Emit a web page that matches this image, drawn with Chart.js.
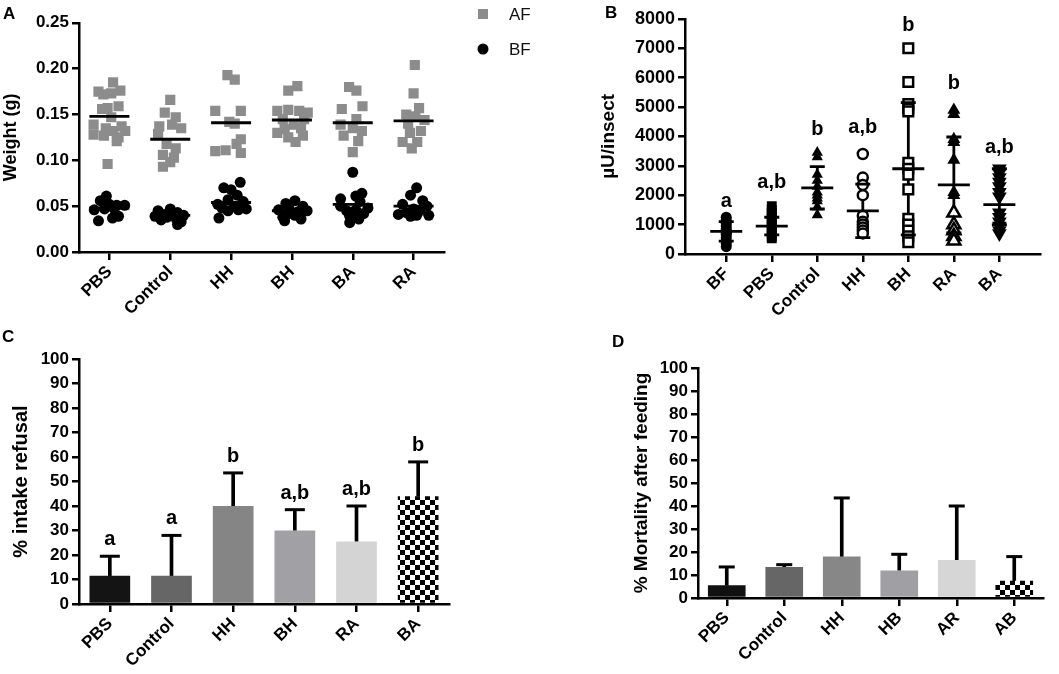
<!DOCTYPE html>
<html><head><meta charset="utf-8">
<script src="https://cdn.jsdelivr.net/npm/chart.js@4.4.1/dist/chart.umd.min.js"></script>
<style>
html,body{margin:0;padding:0;background:#fff;}
#wrap{position:relative;width:1059px;height:674px;overflow:hidden;background:#fff;}
canvas{position:absolute;left:0;top:0;}
.pl{position:absolute;font:bold 17px "Liberation Sans",Arial,sans-serif;line-height:1;color:#000;z-index:5;}
</style></head><body>
<div id="wrap">
<canvas id="cA" width="1059" height="674"></canvas>
<canvas id="cB" width="1059" height="674"></canvas>
<canvas id="cC" width="1059" height="674"></canvas>
<canvas id="cD" width="1059" height="674"></canvas>
<div class="pl" style="left:3px;top:5px">A</div>
<div class="pl" style="left:605px;top:4px">B</div>
<div class="pl" style="left:2px;top:328px">C</div>
<div class="pl" style="left:612px;top:333px">D</div>
</div>
<script>
// ---------- Panel A data ----------
const groupsA = ['PBS','Control','HH','BH','BA','RA'];
const afPBS = [0.185,0.176,0.175,0.173,0.172,0.159,0.157,0.156,0.147,0.139,0.137,0.135,0.132,0.132,0.128,0.127,0.125,0.121,0.096];
const afPBSx = [0.06,0.18,-0.18,0.03,-0.10,0.15,-0.03,-0.12,0.03,-0.26,0.20,-0.06,0.06,0.26,-0.26,-0.09,0.15,0.12,-0.03];
const afControl = [0.166,0.152,0.147,0.139,0.137,0.135,0.129,0.118,0.113,0.106,0.103,0.098,0.093];
const afControlx = [0.0,-0.09,0.09,0.03,-0.18,0.18,-0.2,-0.06,0.09,-0.12,0.06,0.0,-0.12];
const afHH = [0.193,0.188,0.154,0.154,0.142,0.140,0.123,0.118,0.111,0.110,0.108];
const afHHx = [-0.06,0.06,-0.26,0.16,-0.03,0.06,0.16,0.09,-0.09,-0.26,0.16];
const afBH = [0.181,0.176,0.155,0.154,0.154,0.152,0.145,0.145,0.139,0.135,0.134,0.130,0.127,0.125,0.120];
const afBHx = [0.09,-0.06,-0.06,-0.24,0.12,0.26,-0.15,0.20,0.03,0.15,-0.12,-0.24,0.18,-0.06,0.06];
const afBA = [0.180,0.176,0.159,0.156,0.145,0.139,0.135,0.132,0.127,0.121,0.109];
const afBAx = [-0.06,0.06,0.16,-0.18,0.06,-0.2,0.0,0.15,-0.15,0.09,0.0];
const afRA = [0.204,0.173,0.157,0.150,0.148,0.144,0.140,0.132,0.130,0.120,0.120,0.113];
const afRAx = [0.02,0.0,0.09,-0.12,0.03,0.18,-0.09,0.12,-0.06,-0.18,0.06,-0.03];
const bfPBS = [0.061,0.056,0.052,0.051,0.051,0.047,0.047,0.046,0.039,0.037,0.034];
const bfPBSx = [-0.05,-0.15,0.0,0.12,0.25,0.08,-0.08,-0.25,0.15,0.05,-0.18];
const bfControl = [0.047,0.045,0.043,0.041,0.040,0.040,0.039,0.038,0.036,0.035,0.033,0.030];
const bfControlx = [0.0,-0.2,0.12,-0.1,0.22,0.05,-0.25,-0.05,0.1,-0.15,0.18,0.12];
const bfHH = [0.076,0.070,0.068,0.062,0.057,0.055,0.052,0.050,0.048,0.047,0.046,0.045,0.037];
const bfHHx = [0.15,-0.12,0.0,0.1,-0.05,0.2,-0.22,0.05,-0.15,0.25,0.12,-0.05,-0.2];
const bfBH = [0.056,0.053,0.050,0.048,0.046,0.045,0.044,0.042,0.040,0.038,0.036,0.034];
const bfBHx = [0.05,-0.1,0.18,-0.05,-0.22,0.25,0.1,-0.05,0.05,-0.15,0.15,-0.12];
const bfBA = [0.087,0.064,0.061,0.058,0.055,0.050,0.048,0.046,0.045,0.042,0.039,0.036,0.032];
const bfBAx = [0.0,0.15,0.05,-0.2,0.12,-0.2,0.25,0.05,-0.1,0.18,-0.05,0.1,-0.05];
const bfRA = [0.070,0.062,0.056,0.052,0.050,0.047,0.045,0.043,0.041,0.040,0.040,0.039];
const bfRAx = [0.05,-0.05,0.15,-0.18,0.22,0.0,0.1,-0.12,-0.25,0.25,0.05,-0.05];
const meanAF = [0.148,0.123,0.141,0.144,0.141,0.143];
const meanBF = [0.048,0.040,0.054,0.045,0.052,0.050];
const ticksA = [0,0.05,0.10,0.15,0.20,0.25];

// ---------- Panel B data ----------
const groupsB = ['BF','PBS','Control','HH','BH','RA','BA'];
const valBF = [1250,1150,1050,950,850,800,750,700,650,550,450,350,250];
const valPBS = [1630,1500,1400,1300,1200,1100,1000,900,800,700,600,530];
const valControl = [3450,3300,2700,2500,2300,2100,2000,1900,1800,1600,1330];
const valHH = [3400,2600,2350,2000,1300,1100,1000,900,800,700];
const valBH = [7000,5850,5100,4950,4850,3100,2900,2700,2200,1200,1000,800,600,400];
const valRAfilled = [4900,4750,3900,3800,3200,2100,2000];
const valRAopen = [1400,1000,800,600,450];
const valBA = [2900,2750,2600,2450,2300,2100,1950,1400,1250,1100,950,800,700];
const meanB = [770,950,2250,1470,2900,2350,1680];
const sdHighB = [1100,1250,2970,2380,5150,3980,2900];
const sdLowB = [440,650,1530,560,650,720,1000];
const lettersB = ['a','a,b','b','a,b','b','b','a,b'];
const letterPosB = [1600,2250,4050,4100,7600,5600,3450];

// ---------- Panel C data ----------
const groupsC = ['PBS','Control','HH','BH','RA','BA'];
const valC = [11.5,11.5,40,30,25.5,44];
const errC = [19.5,28,53.5,38.5,40,58];
const lettersC = ['a','a','b','a,b','a,b','b'];

// ---------- Panel D data ----------
const groupsD = ['PBS','Control','HH','HB','AR','AB'];
const valD = [5.5,13.5,18,12,16.5,7.5];
const errD = [13.5,14.5,43.5,19,40,18];

// ---------- common ----------
const FF = '"Liberation Sans", Arial, sans-serif';
Chart.defaults.font.family = FF;
Chart.defaults.color = '#000';
Chart.defaults.animation = false;

function yAxis(opts){
  return {
    type:'linear', min:opts.min, max:opts.max,
    afterBuildTicks(s){ s.ticks = opts.ticks.map(v=>({value:v})); },
    ticks:{font:{size:opts.tickSize, weight:'bold', lineHeight:1}, color:'#000', padding:3, autoSkip:false,
      callback:opts.fmt || (v=>String(v))},
    grid:{display:true, drawOnChartArea:false, drawTicks:true, tickLength:7, color:'#000', lineWidth:2.5},
    border:{display:true, color:'#000', width:2.5},
    title:{display:true, text:opts.title, font:{size:opts.titleSize, weight:'bold', lineHeight:1.2}, color:'#000', padding:{top:0,bottom:0}},
    afterFit(s){ s.width = opts.width; }
  };
}
function xAxisLinear(labels, min, max, size){
  return {
    type:'linear', min:min, max:max,
    afterBuildTicks(s){ s.ticks = labels.map((_,i)=>({value:i})); },
    ticks:{font:{size:size, weight:'bold'}, color:'#000', minRotation:45, maxRotation:45, padding:2, autoSkip:false,
      callback:(v)=>labels[Math.round(v)]},
    grid:{display:true, drawOnChartArea:false, tickLength:8, color:'#000', lineWidth:2.5},
    border:{display:true, color:'#000', width:2.5},
    afterFit(s){ s.height = 70; }
  };
}
function xAxisCat(size){
  return {
    type:'category', offset:true,
    ticks:{font:{size:size, weight:'bold'}, color:'#000', minRotation:45, maxRotation:45, padding:2, autoSkip:false},
    grid:{display:true, offset:false, drawOnChartArea:false, tickLength:8, color:'#000', lineWidth:2.5},
    border:{display:true, color:'#000', width:2.5},
    afterFit(s){ s.height = 70; }
  };
}
const lettersPlugin = {
  id:'letters',
  afterDatasetsDraw(chart, args, o){
    if(!o || !o.items) return;
    const ctx = chart.ctx, x = chart.scales.x, y = chart.scales.y;
    ctx.save();
    ctx.font = 'bold 20px ' + FF;
    ctx.fillStyle = '#000';
    ctx.textAlign = 'center';
    ctx.textBaseline = 'alphabetic';
    o.items.forEach(it=>{
      ctx.fillText(it.t, x.getPixelForValue(it.i), y.getPixelForValue(it.v) - (it.dy||0));
    });
    ctx.restore();
  }
};
Chart.register(lettersPlugin);

function checker(ctx){
  const c = document.createElement('canvas'); c.width = 10; c.height = 10;
  const g = c.getContext('2d');
  g.fillStyle = '#fff'; g.fillRect(0,0,10,10);
  g.fillStyle = '#000'; g.fillRect(0,0,5,5); g.fillRect(5,5,5,5);
  return ctx.createPattern(c,'repeat');
}
const commonOpts = (pad)=>({
  responsive:false, devicePixelRatio:1, animation:false,
  layout:{padding:pad},
  plugins:{legend:{display:false}, tooltip:{enabled:false}}
});

// ---------- Chart A ----------
const afAll = [afPBS,afControl,afHH,afBH,afBA,afRA];
const afOff = [afPBSx,afControlx,afHHx,afBHx,afBAx,afRAx];
const bfAll = [bfPBS,bfControl,bfHH,bfBH,bfBA,bfRA];
const bfOff = [bfPBSx,bfControlx,bfHHx,bfBHx,bfBAx,bfRAx];
const pts = (all, off)=> all.flatMap((arr,i)=>arr.map((v,j)=>({x:i+off[i][j], y:v})));

const legendA = {
  id:'legA',
  afterDraw(chart){
    const ctx = chart.ctx;
    ctx.save();
    const ds = chart.data.datasets.filter(d=>d.showInLegend);
    ds.forEach((d,k)=>{
      const cy = k===0 ? 14 : 49, cx = 483;
      ctx.fillStyle = d.pointBackgroundColor;
      ctx.beginPath();
      if(d.pointStyle==='rect') ctx.rect(cx-5, cy-5, 10, 10);
      else ctx.arc(cx, cy, 5.5, 0, Math.PI*2);
      ctx.fill();
      ctx.font = '17px ' + FF;
      ctx.fillStyle = '#111';
      ctx.textBaseline = 'middle';
      ctx.textAlign = 'left';
      ctx.fillText(d.label, 509, cy+1);
    });
    ctx.restore();
  }
};

new Chart(document.getElementById('cA'), {
  type:'scatter',
  data:{datasets:[
    {label:'mean', data: meanAF.map((m,i)=>({x:i,y:m})).concat(meanBF.map((m,i)=>({x:i,y:m}))),
     pointStyle:'line', pointRadius:20, pointBorderWidth:2.8, pointBorderColor:'#000', pointBackgroundColor:'#000', order:0},
    {label:'AF', showInLegend:true, data: pts(afAll, afOff), pointStyle:'rect', pointRadius:7.2,
     pointBackgroundColor:'#8c8c8c', pointBorderWidth:0, pointBorderColor:'#8c8c8c', order:2},
    {label:'BF', showInLegend:true, data: pts(bfAll, bfOff), pointStyle:'circle', pointRadius:5.5,
     pointBackgroundColor:'#000', pointBorderWidth:0, pointBorderColor:'#000', order:1}
  ]},
  options: Object.assign(commonOpts({left:0, top:8, right:1059-444, bottom:674-252-70}), {
    scales:{
      x: xAxisLinear(groupsA, -0.5, 5.5, 17),
      y: yAxis({min:0, max:0.25, ticks:ticksA, tickSize:17, title:'Weight (g)', titleSize:18, width:79, fmt:v=>v.toFixed(2)})
    }
  }),
  plugins:[legendA]
});

// ---------- Chart B ----------
const colPts = (arr,i)=>arr.map(v=>({x:i,y:v}));
const sdLine = [];
groupsB.forEach((g,i)=>{ sdLine.push({x:i,y:sdLowB[i]},{x:i,y:sdHighB[i]},{x:i,y:null}); });
const ticksB = [0,1000,2000,3000,4000,5000,6000,7000,8000];
new Chart(document.getElementById('cB'), {
  type:'scatter',
  data:{datasets:[
    {label:'mean', data: meanB.map((m,i)=>({x:i,y:m})), pointStyle:'line', pointRadius:16, pointBorderWidth:2.8, pointBorderColor:'#000', order:0},
    {label:'caps', data: sdHighB.map((m,i)=>({x:i,y:m})).concat(sdLowB.map((m,i)=>({x:i,y:m}))), pointStyle:'line', pointRadius:7.5, pointBorderWidth:2.8, pointBorderColor:'#000', order:0},
    {label:'BF', data: colPts(valBF,0), pointStyle:'circle', pointRadius:5.5, pointBackgroundColor:'#000', pointBorderWidth:0, order:2},
    {label:'PBS', data: colPts(valPBS,1), pointStyle:'rect', pointRadius:7, pointBackgroundColor:'#000', pointBorderWidth:0, order:2},
    {label:'Control', data: colPts(valControl,2), pointStyle:'triangle', pointRadius:6.5, pointBackgroundColor:'#000', pointBorderWidth:0, order:2},
    {label:'HH', data: colPts(valHH,3), pointStyle:'circle', pointRadius:5, pointBackgroundColor:'#fff', pointBorderColor:'#000', pointBorderWidth:2.5, order:2},
    {label:'BH', data: colPts(valBH,4), pointStyle:'rect', pointRadius:6.8, pointBackgroundColor:'#fff', pointBorderColor:'#000', pointBorderWidth:2.5, order:2},
    {label:'RA', data: colPts(valRAfilled,5), pointStyle:'triangle', pointRadius:7.5, pointBackgroundColor:'#000', pointBorderWidth:0, order:2},
    {label:'RA open', data: colPts(valRAopen,5), pointStyle:'triangle', pointRadius:7.5, pointBackgroundColor:'#fff', pointBorderColor:'#000', pointBorderWidth:2.5, order:2},
    {label:'BA', data: colPts(valBA,6), pointStyle:'triangle', rotation:180, pointRotation:180, pointRadius:8.5, pointBackgroundColor:'#000', pointBorderWidth:0, order:2},
    {label:'sd', data: sdLine, showLine:true, spanGaps:false, borderColor:'#000', borderWidth:2.8, pointRadius:0, order:3}
  ]},
  options: Object.assign(commonOpts({left:597, top:9, right:1, bottom:674-254-70}), {
    scales:{
      x: xAxisLinear(groupsB, -0.906, 6.897, 17),
      y: yAxis({min:0, max:8000, ticks:ticksB, tickSize:18, title:'µU/insect', titleSize:19, width:88})
    },
    plugins:{legend:{display:false}, tooltip:{enabled:false},
      letters:{items: lettersB.map((t,i)=>({t, i, v:letterPosB[i], dy:0}))}}
  })
});

// ---------- Chart C ----------
const ticksPct = [0,10,20,30,40,50,60,70,80,90,100];
const ctxC = document.getElementById('cC').getContext('2d');
const colorsC = ['#141414','#666666','#858585','#a1a1a5','#d4d4d4', checker(ctxC)];
new Chart(ctxC, {
  type:'bar',
  data:{labels:groupsC, datasets:[
    {type:'line', label:'cap', data:errC, showLine:false, pointStyle:'line', pointRadius:10, pointBorderWidth:3, pointBorderColor:'#000', order:0},
    {type:'bar', label:'value', data:valC, backgroundColor:colorsC, barPercentage:0.66, categoryPercentage:1, grouped:false, order:1},
    {type:'bar', label:'err', data:valC.map((v,i)=>[v, errC[i]]), backgroundColor:'#000', barThickness:3, grouped:false, order:2}
  ]},
  options: Object.assign(commonOpts({left:9, top:359, right:1059-449, bottom:0}), {
    scales:{
      x: xAxisCat(17),
      y: yAxis({min:0, max:100, ticks:ticksPct, tickSize:17, title:'% intake refusal', titleSize:20, width:70})
    },
    plugins:{legend:{display:false}, tooltip:{enabled:false},
      letters:{items: lettersC.map((t,i)=>({t, i, v:errC[i], dy:11}))}}
  })
});

// ---------- Chart D ----------
const ctxD = document.getElementById('cD').getContext('2d');
const colorsD = ['#111111','#666666','#878787','#a0a0a4','#d6d6d6', checker(ctxD)];
new Chart(ctxD, {
  type:'bar',
  data:{labels:groupsD, datasets:[
    {type:'line', label:'cap', data:errD, showLine:false, pointStyle:'line', pointRadius:8, pointBorderWidth:3, pointBorderColor:'#000', order:0},
    {type:'bar', label:'value', data:valD, backgroundColor:colorsD, barPercentage:0.655, categoryPercentage:1, grouped:false, order:1},
    {type:'bar', label:'err', data:valD.map((v,i)=>[v, errD[i]]), backgroundColor:'#000', barThickness:3, grouped:false, order:2}
  ]},
  options: Object.assign(commonOpts({left:630, top:368, right:1059-1043, bottom:6}), {
    scales:{
      x: xAxisCat(17),
      y: yAxis({min:0, max:100, ticks:ticksPct, tickSize:17, title:'% Mortality after feeding', titleSize:19, width:68})
    }
  })
});
</script>
</body></html>
